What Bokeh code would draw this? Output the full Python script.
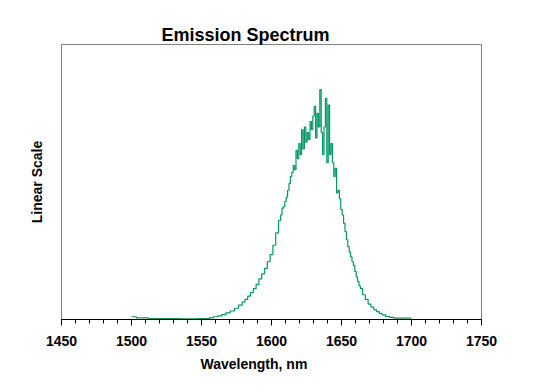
from bokeh.plotting import figure
from bokeh.models import Range1d, SingleIntervalTicker, FixedTicker, Title
from bokeh.embed import file_html
from bokeh.resources import INLINE

# ---- data ----
wavelength_nm = [
    1500, 1507, 1517, 1530, 1540, 1554, 1557, 1560, 1563, 1566, 1569, 1572,
    1575, 1578, 1580, 1582, 1584, 1586, 1588, 1590, 1592, 1594, 1596, 1598,
    1600, 1602, 1604, 1606, 1607, 1608, 1609, 1610, 1611, 1612, 1613, 1614,
    1615, 1616, 1617, 1618, 1619, 1620, 1621, 1622, 1623, 1624, 1625, 1626,
    1627, 1628, 1629, 1630, 1631, 1632, 1633, 1634, 1635, 1636, 1637, 1638,
    1639, 1640, 1641, 1642, 1643, 1644, 1645, 1646, 1647, 1648, 1649, 1650,
    1651, 1652, 1653, 1654, 1655, 1656, 1657, 1658, 1659, 1660, 1661, 1662,
    1663, 1664, 1666, 1668, 1670, 1672, 1674, 1676, 1678, 1680, 1683, 1686,
    1689, 1700,
]
intensity = [
    0.010, 0.006, 0.003, 0.003, 0.002, 0.003, 0.006, 0.010, 0.013, 0.018, 0.024, 0.031,
    0.041, 0.052, 0.063, 0.073, 0.085, 0.098, 0.112, 0.128, 0.148, 0.166, 0.186, 0.210,
    0.236, 0.270, 0.315, 0.360, 0.380, 0.405, 0.410, 0.430, 0.445, 0.470, 0.495, 0.520,
    0.535, 0.560, 0.545, 0.615, 0.585, 0.640, 0.600, 0.690, 0.620, 0.700, 0.645, 0.680,
    0.655, 0.720, 0.690, 0.740, 0.775, 0.660, 0.750, 0.700, 0.836, 0.680, 0.600, 0.700,
    0.804, 0.570, 0.780, 0.600, 0.640, 0.570, 0.520, 0.550, 0.460, 0.470, 0.440, 0.400,
    0.380, 0.350, 0.320, 0.290, 0.265, 0.245, 0.228, 0.210, 0.196, 0.175, 0.155, 0.138,
    0.122, 0.112, 0.090, 0.073, 0.056, 0.045, 0.036, 0.029, 0.022, 0.017, 0.011, 0.008,
    0.005, 0.005,
]
x_ticks = [1450, 1500, 1550, 1600, 1650, 1700, 1750]

FONT = "Liberation Sans"

p = figure(
    output_backend="svg", toolbar_location=None,
    frame_width=420, frame_height=275,
    min_border_left=61, min_border_right=52, min_border_top=44, min_border_bottom=65,
    x_range=Range1d(1450, 1750), y_range=Range1d(0, 1),
    background_fill_color="white", border_fill_color="white",
)

p.title.text = "Emission Spectrum"
p.title.align = "left"
p.title.offset = 100
p.title.text_font = FONT
p.title.text_font_size = "18px"
p.title.text_font_style = "bold"
p.title.text_color = "black"
p.title.standoff = 0

p.step(wavelength_nm, intensity, mode="center", line_color="#009966", line_width=1.2)

p.grid.visible = False
p.outline_line_color = "#808080"
p.outline_line_width = 1

xa = p.xaxis[0]
xa.ticker = SingleIntervalTicker(interval=50, num_minor_ticks=5)
xa.axis_line_color = "black"
xa.major_tick_out = 6
xa.major_tick_in = 0
xa.minor_tick_out = 4
xa.minor_tick_in = 0
xa.major_tick_line_color = "black"
xa.minor_tick_line_color = "black"
xa.major_label_text_font = FONT
xa.major_label_text_font_size = "14px"
xa.major_label_text_font_style = "bold"
xa.major_label_text_color = "black"
xa.major_label_standoff = 10

ya = p.yaxis[0]
ya.ticker = FixedTicker(ticks=[])
ya.axis_line_color = None
ya.major_tick_line_color = None
ya.minor_tick_line_color = None
ya.axis_label = "Linear Scale"
ya.axis_label_text_font = FONT
ya.axis_label_text_font_size = "14px"
ya.axis_label_text_font_style = "bold"
ya.axis_label_text_color = "black"
ya.axis_label_standoff = 17

p.add_layout(Title(text="Wavelength, nm", align="left", offset=139,
                   text_font=FONT, text_font_size="14px", text_font_style="bold",
                   text_color="black", standoff=11), "below")

open("out.html", "w").write(file_html(p, INLINE))
